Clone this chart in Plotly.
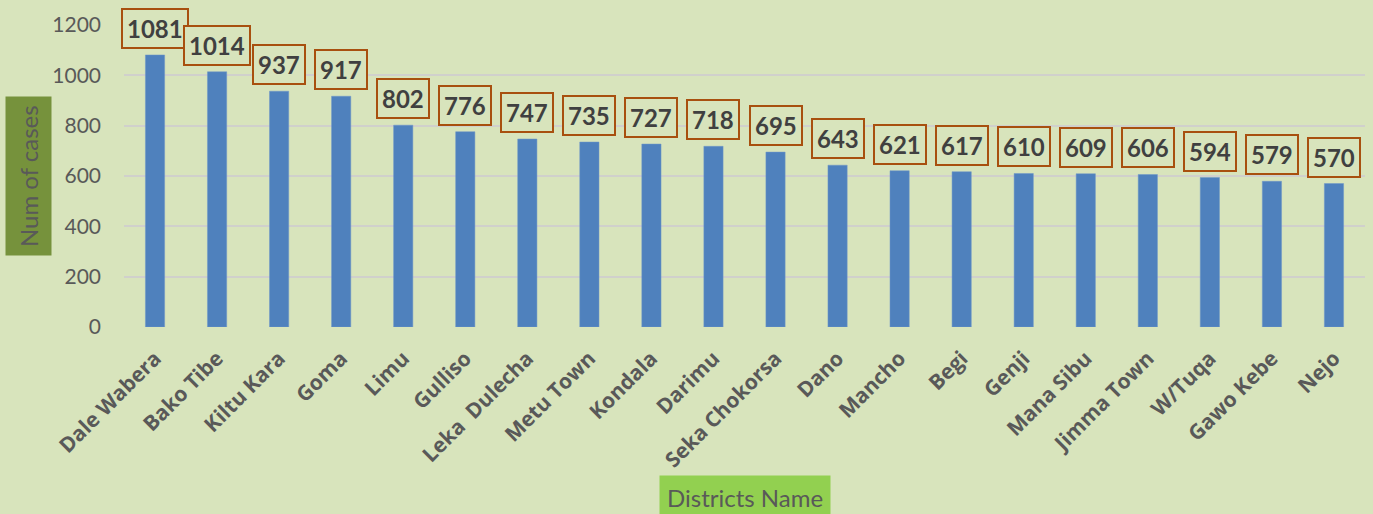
import plotly.graph_objects as go

districts = ["Dale Wabera", "Bako Tibe", "Kiltu Kara", "Goma", "Limu", "Gulliso",
             "Leka  Dulecha", "Metu Town", "Kondala", "Darimu", "Seka Chokorsa", "Dano",
             "Mancho", "Begi", "Genji", "Mana Sibu", "Jimma Town", "W/Tuqa", "Gawo Kebe", "Nejo"]
cases = [1081, 1014, 937, 917, 802, 776, 747, 735, 727, 718, 695, 643,
         621, 617, 610, 609, 606, 594, 579, 570]
y_ticks = [0, 200, 400, 600, 800, 1000, 1200]

BG = "#D8E4BC"
fig = go.Figure()
fig.add_trace(go.Bar(x=districts, y=cases, marker=dict(color="#4F81BD", line=dict(color="#6F97C8", width=0.5)),
                     width=0.31))

for d, v in zip(districts, cases):
    fig.add_annotation(x=d, y=v, xref="x", yref="y", text=f"<b>{v}</b>", showarrow=False,
                       yanchor="bottom", yshift=6,
                       font=dict(family="Lato", size=24, color="#404040"),
                       bordercolor="#A8500F", borderwidth=2, borderpad=4, bgcolor=BG)

pw = 1373 - 124 - 8
ph = 514 - 25 - 187

fig.add_annotation(x=(28.5 - 124) / pw, y=(327 - 176.5) / ph, xref="paper", yref="paper",
                   xanchor="center", yanchor="middle",
                   text="Num of cases", textangle=-90, showarrow=False,
                   font=dict(family="Lato", size=24, color="#595959"),
                   bgcolor="#76923C", borderpad=8)

fig.add_annotation(x=(744.5 - 124) / pw, y=(327 - 497) / ph, xref="paper", yref="paper",
                   xanchor="center", yanchor="middle", text="Districts Name", showarrow=False,
                   font=dict(family="Lato", size=24, color="#595959"), bgcolor="#92D050", borderpad=7)

fig.update_layout(
    width=1373, height=514,
    paper_bgcolor=BG, plot_bgcolor=BG,
    margin=dict(l=124, r=8, t=25, b=187),
    showlegend=False,
    bargap=0.69,
    xaxis=dict(tickangle=-45, tickfont=dict(family="Open Sans", size=21, color="#595959", weight="bold"),
               ticklabelstandoff=14, showgrid=False, zeroline=False, showline=False,
               range=[-0.5, len(districts) - 0.5]),
    yaxis=dict(range=[0, 1200], tickvals=y_ticks, showgrid=True, gridcolor="#D0D0CC", gridwidth=2,
               tickfont=dict(family="Lato", size=21, color="#595959"), zeroline=False,
               ticklabelstandoff=22),
)

fig.write_html("out.html", config={"displayModeBar": False},
               post_script="document.body.style.margin='0';")
